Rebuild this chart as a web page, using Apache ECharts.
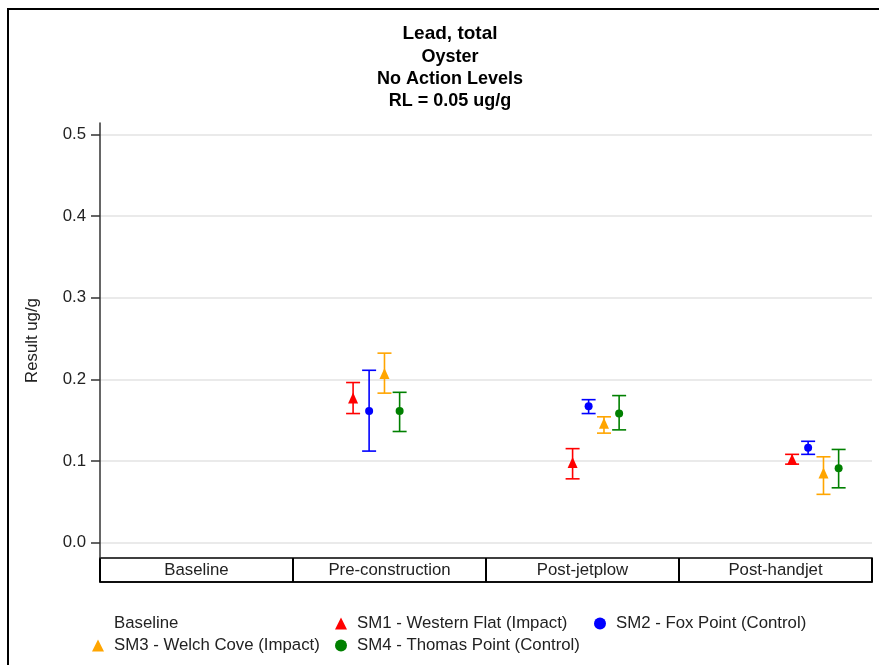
<!DOCTYPE html>
<html>
<head>
<meta charset="utf-8">
<script src="https://cdn.jsdelivr.net/npm/echarts@6/dist/echarts.min.js"></script>
<style>
html,body{margin:0;padding:0;background:#fff;}
#chart{width:879px;height:665px;}
</style>
</head>
<body>
<div id="chart"></div>
<script>
// ---- data ----
const categories = ['Baseline', 'Pre-construction', 'Post-jetplow', 'Post-handjet'];
const seriesNames = ['SM1 - Western Flat (Impact)', 'SM2 - Fox Point (Control)', 'SM3 - Welch Cove (Impact)', 'SM4 - Thomas Point (Control)'];
const sm1Mean = [null, 0.177, 0.098, 0.102];
const sm1Low  = [null, 0.158, 0.078, 0.096];
const sm1High = [null, 0.196, 0.115, 0.108];
const sm2Mean = [null, 0.161, 0.167, 0.116];
const sm2Low  = [null, 0.112, 0.158, 0.108];
const sm2High = [null, 0.211, 0.175, 0.124];
const sm3Mean = [null, 0.207, 0.146, 0.085];
const sm3Low  = [null, 0.183, 0.134, 0.059];
const sm3High = [null, 0.232, 0.154, 0.105];
const sm4Mean = [null, 0.161, 0.158, 0.091];
const sm4Low  = [null, 0.136, 0.138, 0.067];
const sm4High = [null, 0.184, 0.180, 0.114];
const yTicks = [0, 0.1, 0.2, 0.3, 0.4, 0.5];
const titleLines = ['Lead, total', 'Oyster', 'No Action Levels', 'RL = 0.05 ug/g'];
const yAxisName = 'Result ug/g';

// ---- style / layout ----
const FONT = '"Liberation Sans", Arial, sans-serif';
const FS = 16.8;
const colors = ['#FF0000', '#0000FF', '#FFA500', '#008000'];
const symbols = ['triangle', 'circle', 'triangle', 'circle'];
const symbolSizes = [[10, 11], 8, [10, 11], 8];
const clusterOffsets = [-0.107, -0.034, 0.036, 0.105];
const means = [sm1Mean, sm2Mean, sm3Mean, sm4Mean];
const lows = [sm1Low, sm2Low, sm3Low, sm4Low];
const highs = [sm1High, sm2High, sm3High, sm4High];

function errRender(params, api) {
  const x = api.value(0), lo = api.value(1), hi = api.value(2);
  const pLo = api.coord([x, lo]);
  const pHi = api.coord([x, hi]);
  const hw = 7;
  const st = { stroke: api.visual('color'), lineWidth: 1.6 };
  return {
    type: 'group',
    children: [
      { type: 'line', shape: { x1: pLo[0], y1: pLo[1], x2: pHi[0], y2: pHi[1] }, style: st },
      { type: 'line', shape: { x1: pLo[0] - hw, y1: pLo[1], x2: pLo[0] + hw, y2: pLo[1] }, style: st },
      { type: 'line', shape: { x1: pHi[0] - hw, y1: pHi[1], x2: pHi[0] + hw, y2: pHi[1] }, style: st }
    ]
  };
}

const series = [{
  name: 'Baseline', type: 'scatter', xAxisIndex: 0, yAxisIndex: 0, data: [],
  itemStyle: { color: 'rgba(0,0,0,0)' }
}];
for (let s = 0; s < 4; s++) {
  const errData = [];
  categories.forEach((c, i) => {
    if (means[s][i] == null) return;
    errData.push([i + clusterOffsets[s], lows[s][i], highs[s][i]]);
  });
  series.push({
    name: seriesNames[s] + ' err', type: 'custom', xAxisIndex: 0, yAxisIndex: 0,
    renderItem: errRender, data: errData, itemStyle: { color: colors[s] }, z: 2, silent: true
  });
}
for (let s = 0; s < 4; s++) {
  const ptData = [];
  categories.forEach((c, i) => {
    if (means[s][i] == null) return;
    ptData.push([i + clusterOffsets[s], means[s][i]]);
  });
  series.push({
    name: seriesNames[s], type: 'scatter', xAxisIndex: 0, yAxisIndex: 0,
    symbol: symbols[s], symbolSize: symbolSizes[s], data: ptData,
    itemStyle: { color: colors[s], opacity: 1 }, z: 3
  });
}

function legendAt(name, left, top) {
  return {
    data: [name], left: left, top: top, padding: 0, itemWidth: 12, itemHeight: 12,
    selectedMode: false,
    textStyle: { fontFamily: FONT, fontSize: FS, color: '#222', padding: [0, 0, 0, 5] }
  };
}

const titleCenters = [34, 57, 79, 101];
const titleGraphics = titleLines.map((t, i) => ({
  type: 'text', x: 450, y: titleCenters[i], silent: true,
  style: {
    text: t, fill: '#000', align: 'center', verticalAlign: 'middle',
    font: 'bold ' + (i === 0 ? 19 : 18) + 'px ' + FONT
  }
}));

const chart = echarts.init(document.getElementById('chart'), null, { renderer: 'canvas' });
chart.setOption({
  backgroundColor: '#fff',
  animation: false,
  legend: [
    legendAt('Baseline', 92, 615),
    legendAt(seriesNames[0], 335, 615),
    legendAt(seriesNames[1], 594, 615),
    legendAt(seriesNames[2], 92, 637),
    legendAt(seriesNames[3], 335, 637)
  ],
  grid: [
    { left: 100, right: 7, top: 123, bottom: 107, show: false },
    { left: 100, right: 7, top: 558, height: 24, show: true, borderColor: '#000', borderWidth: 1.5, backgroundColor: 'transparent' }
  ],
  xAxis: [
    { type: 'value', gridIndex: 0, min: -0.26, max: 3.257, show: false },
    {
      type: 'category', gridIndex: 1, data: categories, boundaryGap: true,
      axisLine: { show: true, lineStyle: { color: '#000', width: 1.5 } },
      axisTick: { show: false },
      splitLine: { show: true, interval: 0, lineStyle: { color: '#000', width: 2 } },
      axisLabel: { inside: true, margin: 3, interval: 0, fontFamily: FONT, fontSize: FS, color: '#222' }
    }
  ],
  yAxis: [
    {
      type: 'value', gridIndex: 0, min: -0.019, max: 0.514,
      name: yAxisName, nameLocation: 'middle', nameGap: 59, nameRotate: 90,
      nameTextStyle: { fontFamily: FONT, fontSize: FS, color: '#222' },
      axisLine: { show: true, onZero: false, lineStyle: { color: '#333', width: 1.5 } },
      axisTick: { show: true, length: 9, lineStyle: { color: '#333', width: 1.5 }, customValues: yTicks },
      axisLabel: { margin: 14, fontFamily: FONT, fontSize: FS, color: '#222', customValues: yTicks,
        formatter: v => v.toFixed(1) },
      splitLine: { show: true, lineStyle: { color: '#e3e3e3', width: 1.5 } }
    },
    { type: 'value', gridIndex: 1, show: false }
  ],
  graphic: [
    { type: 'rect', shape: { x: 8, y: 9, width: 900, height: 700 }, style: { fill: 'none', stroke: '#000', lineWidth: 2 }, silent: true }
  ].concat(titleGraphics),
  series: series
});
</script>
</body>
</html>
